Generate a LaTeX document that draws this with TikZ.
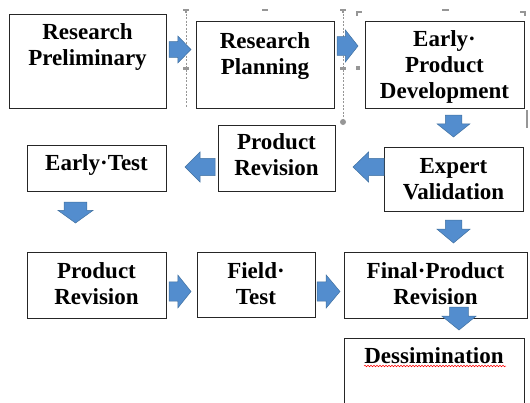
\documentclass[tikz,border=0pt]{standalone}
\usepackage{fontspec}
\setmainfont{Liberation Serif}
\usetikzlibrary{decorations.pathmorphing}
\definecolor{arrfill}{RGB}{83,141,206}
\definecolor{arrline}{RGB}{65,113,160}
\definecolor{selgrey}{RGB}{150,150,150}
\tikzset{
  box/.style={draw=black!85,line width=1pt},
  label/.style={font=\fontsize{23}{26}\selectfont\bfseries,align=center,inner sep=0pt,anchor=base},
  blockarrow/.style={fill=arrfill,draw=arrline,line width=0.5pt,line join=miter},
  selline/.style={draw=selgrey,dashed,line width=0.6pt,dash pattern=on 2pt off 1.5pt},
  handle/.style={fill=selgrey}
}
% right arrow: x1 y1 x2 y2 bodyfrac headfrac
\newcommand\RArrow[6]{%
  \pgfmathsetmacro\ym{(#2+#4)/2}\pgfmathsetmacro\hb{#5*(#4-#2)/2}%
  \pgfmathsetmacro\xh{#3-#6*(#3-#1)}%
  \path[blockarrow] (#1,{\ym-\hb}) -- (\xh,{\ym-\hb}) -- (\xh,#2) -- (#3,\ym) -- (\xh,#4) -- (\xh,{\ym+\hb}) -- (#1,{\ym+\hb}) -- cycle;}
\newcommand\LArrow[6]{%
  \pgfmathsetmacro\ym{(#2+#4)/2}\pgfmathsetmacro\hb{#5*(#4-#2)/2}%
  \pgfmathsetmacro\xh{#1+#6*(#3-#1)}%
  \path[blockarrow] (#3,{\ym-\hb}) -- (\xh,{\ym-\hb}) -- (\xh,#2) -- (#1,\ym) -- (\xh,#4) -- (\xh,{\ym+\hb}) -- (#3,{\ym+\hb}) -- cycle;}
\newcommand\DArrow[6]{%
  \pgfmathsetmacro\xm{(#1+#3)/2}\pgfmathsetmacro\wb{#5*(#3-#1)/2}%
  \pgfmathsetmacro\yh{#4-#6*(#4-#2)}%
  \path[blockarrow] ({\xm-\wb},#2) -- ({\xm+\wb},#2) -- ({\xm+\wb},\yh) -- (#3,\yh) -- (\xm,#4) -- (#1,\yh) -- ({\xm-\wb},\yh) -- cycle;}
\begin{document}
\begin{tikzpicture}[x=1pt,y=-1pt]
\useasboundingbox (0,0) rectangle (530,402);
\clip (0,0) rectangle (530,402);
% selection artefacts
\draw[selline] (186,10) -- (186,108);
\draw[selline] (343,10) -- (343,120);
\fill[handle] (183,9) rectangle (189,11);
\fill[handle] (185.2,9) rectangle (186.8,13);
\fill[handle] (183,67) rectangle (189,70);
\fill[handle] (340,9) rectangle (346,11);
\fill[handle] (342.2,9) rectangle (343.8,13);
\fill[handle] (340,67) rectangle (346,70);
\fill[handle] (343,122) circle (3);
\fill[handle] (262,9) rectangle (268,11);
\fill[handle] (442,9) rectangle (449,11);
\fill[handle] (356,11) rectangle (362,13);
\fill[handle] (356,11) rectangle (358,16);
\fill[handle] (520,11) rectangle (526,13);
\fill[handle] (524,11) rectangle (526,16);
\fill[handle] (356,66) rectangle (360,70);
\fill[handle] (526,110) rectangle (528,128);
% boxes
\node[box,minimum width=157pt,minimum height=94pt,inner sep=0pt] (b1) at (87.5,61) {};
\node[box,minimum width=138pt,minimum height=87pt,inner sep=0pt] (b2) at (265,64.5) {};
\node[box,minimum width=159pt,minimum height=87pt,inner sep=0pt] (b3) at (444.5,64.5) {};
\node[box,minimum width=117pt,minimum height=66pt,inner sep=0pt] (b4) at (276.5,158) {};
\node[box,minimum width=139pt,minimum height=46pt,inner sep=0pt] (b5) at (96.5,168) {};
\node[box,minimum width=139pt,minimum height=64pt,inner sep=0pt] (b6) at (453.5,179) {};
\node[box,minimum width=139pt,minimum height=66pt,inner sep=0pt] (b7) at (96.5,285) {};
\node[box,minimum width=118pt,minimum height=65pt,inner sep=0pt] (b8) at (256,284.5) {};
\node[box,minimum width=183pt,minimum height=66pt,inner sep=0pt] (b9) at (435.5,285) {};
\node[box,minimum width=180pt,minimum height=100pt,inner sep=0pt] (b10) at (434,388) {};
% labels (anchor = baseline of last line)
\node[label] (t1) at (87.5,65) {Research\\Preliminary};
\node[label] (t2) at (265,74) {Research\\Planning};
\node[label] (t3) at (444.5,98) {Early·\\Product\\Development};
\node[label] (t4) at (276.5,175) {Product\\Revision};
\node[label] (t5) at (96.5,170) {Early·Test};
\node[label] (t6) at (453.5,199) {Expert\\Validation};
\node[label] (t7) at (96.5,304) {Product\\Revision};
\node[label] (t8) at (256,304) {Field·\\Test};
\node[label] (t9) at (435.5,304) {Final·Product\\Revision};
\node[label] (t10) at (434,363) {Dessimination};
\draw[red,line width=0.5pt,decorate,decoration={snake,amplitude=0.8pt,segment length=3pt}] (364,366) -- (506,366);
% block arrows
\RArrow{169}{36}{191}{63}{0.58}{0.6}
\RArrow{337}{30}{358}{62}{0.58}{0.6}
\DArrow{437}{115}{470}{137}{0.5}{0.6}
\LArrow{353}{152}{384}{182}{0.58}{0.5}
\LArrow{185}{152}{215}{182}{0.58}{0.5}
\DArrow{58}{202}{93}{223}{0.65}{0.6}
\DArrow{437}{220}{470}{243}{0.5}{0.6}
\RArrow{169}{275}{191}{308}{0.58}{0.6}
\RArrow{317}{275}{340}{308}{0.58}{0.6}
\DArrow{442}{307}{476}{330}{0.55}{0.6}
\end{tikzpicture}
\end{document}
